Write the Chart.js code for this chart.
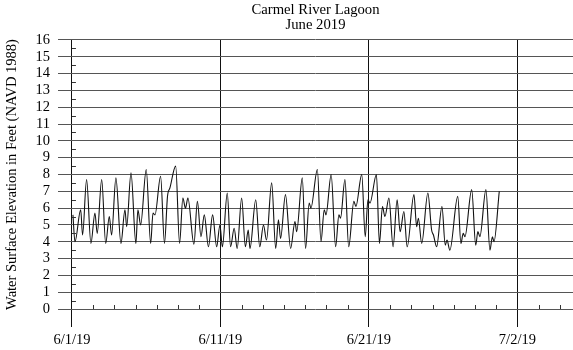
<!DOCTYPE html>
<html>
<head>
<meta charset="utf-8">
<script src="https://cdn.jsdelivr.net/npm/chart.js@4.4.1/dist/chart.umd.min.js"></script>
<style>
  html, body { margin: 0; padding: 0; background: #fff; }
  #wrap { width: 573px; height: 350px; }
</style>
</head>
<body>
<div id="wrap"><canvas id="chart"></canvas></div>
<script>
const titleLines = ["Carmel River Lagoon", "June 2019"];
const yTitle = "Water Surface Elevation in Feet (NAVD 1988)";

// x axis is in days after 6/1/19
const tickDays = [0, 10.333, 20.667, 31];
const tickLabels = ["6/1/19", "6/11/19", "6/21/19", "7/2/19"];

// highs and lows
const tideDays = [
  0.07, 0.21, 0.61, 0.74, 1.02, 1.32, 1.60, 1.76, 2.07, 2.35,
  2.60, 2.76, 3.06, 3.41, 3.69, 3.81, 4.11, 4.45, 4.59, 4.78,
  5.17, 5.48, 5.64, 5.78, 6.17, 6.44, 6.65, 6.82, 7.22, 7.49,
  7.72, 7.90, 8.07, 8.49, 8.73, 8.98, 9.21, 9.50, 9.79, 10.07,
  10.30, 10.47, 10.81, 11.04, 11.29, 11.50, 11.81, 12.07, 12.27, 12.39,
  12.79, 13.07, 13.33, 13.54, 13.90, 14.18, 14.37, 14.52, 14.86, 15.22,
  15.52, 15.64, 16.03, 16.26, 16.51, 16.63, 17.08, 17.33, 17.56, 17.68,
  18.04, 18.35, 18.58, 18.69, 19.00, 19.26, 19.62, 19.76, 20.17, 20.41,
  20.60, 20.74, 21.19, 21.40, 21.61, 21.78, 22.06, 22.35, 22.63, 22.84,
  23.10, 23.33, 23.80, 23.99, 24.11, 24.34, 24.77, 25.03, 25.16, 25.38,
  25.75, 25.98, 26.10, 26.30, 26.85, 27.07, 27.23, 27.35, 27.82, 28.10,
  28.25, 28.39, 28.81, 29.09, 29.26, 29.37, 29.74
];
const tideFeet = [
  5.6, 4.0, 5.9, 4.4, 7.7, 3.9, 5.7, 4.5, 7.7, 3.9,
  5.5, 4.4, 7.8, 3.9, 5.9, 4.9, 8.1, 3.9, 5.9, 5.0,
  8.3, 3.9, 5.7, 5.6, 7.9, 3.9, 6.7, 7.2, 8.5, 3.9,
  6.6, 6.0, 6.6, 3.85, 6.4, 4.3, 5.6, 3.7, 5.6, 3.7,
  5.0, 3.7, 6.9, 3.7, 4.8, 3.6, 6.6, 3.7, 4.7, 3.6,
  6.5, 3.7, 5.0, 4.1, 7.5, 3.6, 5.3, 4.2, 6.8, 3.6,
  5.2, 4.6, 7.8, 3.6, 6.3, 6.0, 8.3, 4.0, 5.9, 5.6,
  8.0, 3.7, 5.6, 5.4, 7.7, 3.7, 6.4, 6.1, 8.0, 4.3,
  6.5, 6.3, 8.0, 3.9, 6.1, 5.5, 6.6, 3.7, 6.5, 4.6,
  5.8, 3.7, 6.8, 4.9, 5.4, 3.9, 6.9, 4.7, 4.4, 3.7,
  6.1, 3.8, 4.1, 3.5, 6.7, 3.9, 4.5, 4.3, 7.1, 3.8,
  4.6, 4.3, 7.1, 3.5, 4.3, 4.0, 7.0
];

const serif = "'Liberation Serif', 'Times New Roman', serif";

// small tick marks: half feet on the date axis line, 31/21 day steps on the zero line
const minorTicks = {
  id: "minorTicks",
  afterDraw(chart) {
    const { ctx } = chart;
    const xs = chart.scales.x, ys = chart.scales.y;
    const x0 = xs.getPixelForValue(0);
    const y0 = ys.getPixelForValue(0);
    ctx.save();
    ctx.strokeStyle = "#333";
    ctx.lineWidth = 1;
    ctx.beginPath();
    for (let v = 0.5; v < 16; v += 1) {
      const py = Math.round(ys.getPixelForValue(v)) + 0.5;
      ctx.moveTo(x0, py);
      ctx.lineTo(x0 + 4, py);
    }
    const step = 31 / 21;
    for (let k = 1; k * step < xs.max; k++) {
      if (k % 7 === 0) continue;
      const px = Math.round(xs.getPixelForValue(k * step)) + 0.5;
      ctx.moveTo(px, y0);
      ctx.lineTo(px, y0 - 4);
    }
    ctx.stroke();
    ctx.restore();
  }
};

const ctx = document.getElementById("chart").getContext("2d");
new Chart(ctx, {
  type: "line",
  data: {
    datasets: [{
      data: tideDays.map((d, i) => ({ x: d, y: tideFeet[i] })),
      borderColor: "#111",
      borderWidth: 1.1,
      pointRadius: 0,
      cubicInterpolationMode: "monotone",
      fill: false
    }]
  },
  options: {
    responsive: true,
    maintainAspectRatio: false,
    animation: false,
    layout: { padding: 0 },
    plugins: {
      legend: { display: false },
      tooltip: { enabled: false },
      title: {
        display: true,
        text: titleLines,
        fullSize: false,
        color: "#000",
        font: { family: serif, size: 14.7, weight: "normal", lineHeight: 1.02 },
        padding: { top: 3, bottom: 7 }
      }
    },
    scales: {
      x: {
        type: "linear",
        min: -0.97,
        max: 34.87,
        afterBuildTicks: (scale) => {
          scale.ticks = tickDays.map((v) => ({ value: v }));
        },
        afterFit: (scale) => { scale.height = 41; },
        grid: { color: "#111", lineWidth: 1, tickLength: 18, drawTicks: true },
        border: { display: false },
        ticks: {
          autoSkip: false,
          maxRotation: 0,
          padding: 4,
          color: "#000",
          font: { family: serif, size: 14.5 },
          callback: (v, i) => tickLabels[i]
        }
      },
      y: {
        min: 0,
        max: 16,
        afterFit: (scale) => { scale.width = 58; },
        grid: { color: "#555", lineWidth: 1, drawTicks: false },
        border: { display: false },
        ticks: {
          stepSize: 1,
          autoSkip: false,
          padding: 8,
          color: "#000",
          font: { family: serif, size: 14.5 }
        },
        title: {
          display: true,
          text: yTitle,
          color: "#000",
          font: { family: serif, size: 14.5 },
          padding: { top: 3, bottom: 0 }
        }
      }
    }
  },
  plugins: [minorTicks]
});
</script>
</body>
</html>
